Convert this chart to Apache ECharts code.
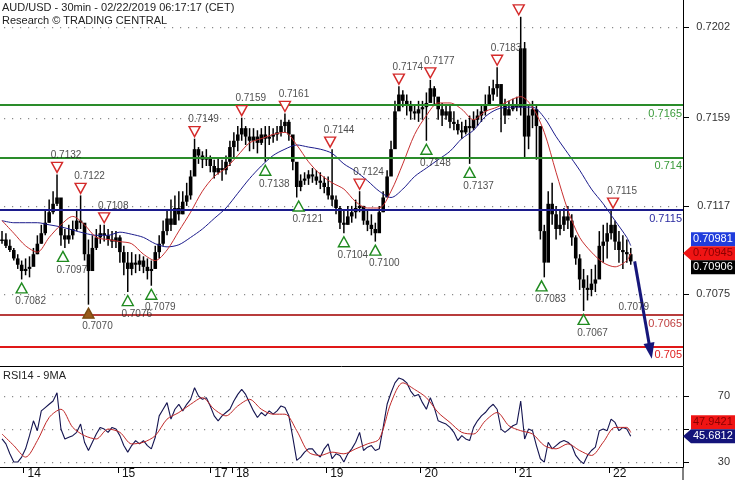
<!DOCTYPE html>
<html><head><meta charset="utf-8">
<script src="https://cdn.jsdelivr.net/npm/echarts@6/dist/echarts.min.js"></script>
<style>html,body{margin:0;padding:0;background:#fff}#c{width:735px;height:480px}</style>
</head><body><div id="c"></div>
<script>
// ---- price bars (one per hour, price in pips: 7105 = 0.7105) ----
const highs = [
7105,7104,7101,7097,7094,7091,7092,7093,7097,7103,
7108,7115,7120,7124,7132,7120,7106,7108,7110,7115,
7122,7108,7101,7103,7106,7108,7108,7106,7105,7105,
7103,7098,7095,7095,7094,7094,7093,7092,7091,7098,
7103,7110,7115,7120,7122,7124,7124,7128,7134,7149,
7145,7143,7144,7141,7139,7140,7139,7141,7148,7152,
7155,7159,7155,7154,7154,7153,7154,7155,7155,7154,
7155,7158,7161,7158,7150,7136,7132,7133,7134,7135,
7134,7133,7131,7131,7144,7122,7117,7115,7117,7117,
7120,7124,7117,7115,7113,7109,7117,7124,7134,7148,
7167,7174,7172,7170,7167,7165,7167,7167,7171,7177,
7174,7167,7166,7165,7165,7162,7158,7157,7158,7160,
7162,7163,7165,7170,7174,7177,7183,7172,7168,7167,
7168,7169,7207,7195,7165,7167,7165,7153,7108,7124,
7128,7117,7115,7116,7117,7113,7103,7094,7087,7084,
7087,7089,7105,7108,7109,7115,7110,7105,7103,7101,
7097];
const lows = [
7099,7097,7095,7091,7087,7082,7084,7083,7089,7094,
7099,7103,7109,7113,7117,7098,7097,7099,7101,7105,
7106,7091,7070,7090,7096,7099,7100,7098,7097,7097,
7090,7084,7076,7084,7085,7086,7085,7082,7079,7087,
7092,7098,7103,7105,7108,7110,7113,7117,7120,7136,
7137,7135,7136,7133,7130,7132,7129,7132,7136,7140,
7143,7148,7146,7143,7144,7142,7146,7138,7146,7147,
7148,7150,7152,7148,7134,7121,7124,7127,7127,7128,
7127,7125,7123,7120,7117,7113,7106,7104,7108,7109,
7111,7114,7108,7105,7103,7100,7108,7114,7122,7132,
7146,7165,7164,7160,7158,7158,7157,7158,7148,7167,
7165,7158,7155,7158,7154,7153,7151,7149,7151,7137,
7153,7155,7157,7160,7165,7167,7169,7152,7156,7161,
7162,7162,7160,7140,7144,7154,7139,7101,7083,7101,
7108,7101,7103,7105,7106,7098,7089,7077,7067,7072,
7074,7076,7086,7090,7092,7101,7096,7090,7087,7090,
7089];
const closes = [
7101,7098,7096,7092,7089,7086,7087,7088,7094,7099,
7104,7109,7114,7118,7121,7103,7101,7103,7106,7110,
7109,7094,7086,7097,7102,7104,7103,7101,7100,7102,
7095,7090,7087,7090,7089,7091,7088,7086,7087,7095,
7099,7105,7111,7108,7116,7113,7119,7122,7131,7144,
7141,7139,7140,7136,7133,7135,7134,7138,7145,7148,
7151,7154,7150,7148,7150,7147,7151,7149,7150,7151,
7152,7155,7157,7151,7138,7126,7129,7130,7132,7131,
7129,7128,7126,7122,7120,7116,7109,7108,7112,7114,
7116,7117,7110,7108,7106,7104,7114,7121,7131,7144,
7162,7170,7167,7165,7162,7161,7163,7164,7166,7173,
7169,7163,7160,7162,7157,7156,7153,7152,7155,7154,
7158,7160,7162,7165,7170,7173,7175,7165,7160,7163,
7165,7164,7192,7150,7160,7163,7155,7105,7090,7118,
7113,7106,7108,7112,7110,7102,7092,7082,7078,7077,
7080,7082,7098,7100,7104,7108,7100,7096,7095,7094,
7090.6];

// ---- moving averages [hour, pips] ----
const fastMA = [[0,7110],[3,7104],[6,7098],[9,7095],[12,7102],[15,7108],[18,7112],[21,7108],[24,7102],[27,7101],
[30,7100],[33,7099],[36,7094],[39,7091],[42,7096],[45,7105],[48,7114],[51,7124],[54,7131],[57,7135],
[60,7141],[63,7147],[66,7149],[69,7151],[72,7152],[75,7146],[78,7138],[81,7132],[84,7128],[87,7125],
[90,7119],[93,7116],[96,7116],[99,7124],[102,7137],[105,7151],[108,7160],[111,7166],[114,7166],[117,7163],
[120,7158],[123,7162],[126,7164],[129,7167],[132,7169],[135,7164],[138,7152],[141,7133],[144,7115],[147,7102],
[150,7095],[153,7090],[156,7088],[159,7091],[160,7094.5]];
const slowMA = [[0,7110],[3,7109],[6,7109],[9,7109],[12,7108],[15,7107],[18,7105.5],[21,7104],[24,7103],[27,7103],
[30,7104.5],[33,7103.5],[36,7102],[39,7099],[42,7097.5],[45,7098.5],[48,7102],[51,7106],[54,7111],[57,7116],
[60,7123],[63,7130],[66,7136],[69,7141],[72,7144],[75,7146],[78,7145],[81,7144],[84,7142],[87,7137],
[90,7133.5],[93,7129],[96,7124],[99,7121],[102,7125],[105,7131],[108,7135],[111,7139],[114,7143],[117,7149],
[120,7153],[123,7159.5],[126,7163],[129,7164],[132,7164],[135,7164],[138,7159],[141,7150],[144,7142],[147,7134],
[150,7125],[153,7118],[156,7110],[159,7102],[160,7098.1]];

// ---- RSI (hourly) and its 9MA [hour, value] ----
const rsi = [
44,41,35,30,30,33,38,46,55,49,
61,63,65,67,72,50,44,45,46,48,
53,42,37,42,47,51,50,48,51,50,
46,40,36,40,43,41,43,40,38,45,
58,62,66,56,62,65,61,65,68,75,
70,68,69,64,58,55,58,60,62,67,
71,74,71,66,61,57,60,58,61,59,
61,64,63,58,45,31,33,36,38,38,
35,33,38,41,32,35,34,30,35,38,
42,48,37,39,40,37,38,51,65,72,
78,81,80,78,73,70,71,66,62,69,
63,55,54,53,51,48,43,46,44,43,
51,55,58,60,63,65,62,50,48,50,
52,53,67,44,50,49,40,32,30,42,
38,40,42,43,42,40,34,31,29,34,
37,39,49,50,49,56,54,49,51,50,
45.6812];
const rsiMA = [[0,47],[3,40],[6,33],[9,43],[12,57],[15,62],[18,51],[21,46],[24,44],[27,50],
[30,48],[33,41],[36,42],[39,46],[42,56],[45,60],[48,65],[51,69],[54,62],[57,58],
[60,64],[63,68],[66,62],[69,59],[72,59],[75,49],[78,36],[81,34],[84,36],[87,35],
[90,38],[93,41],[96,44],[99,66],[102,78],[105,74],[108,69],[111,60],[114,54],[117,48],
[120,47],[123,55],[126,60],[129,52],[132,49],[135,47],[138,40],[141,38],[144,41],[147,37],
[150,34],[153,42],[156,51],[159,51],[160,47.9421]];

// ---- levels, markers, ticks ----
const levelValues = [7165, 7140, 7115, 7065, 7050];
const levelLabels = ['0.7165', '0.714', '0.7115', '0.7065', '0.705'];
const peakTimes  = [14, 20, 26, 49, 61, 72, 83.5, 91, 101, 109, 126, 131.5, 155.5];
const peakValues = [7132, 7122, 7108, 7149, 7159, 7161, 7144, 7124, 7174, 7177, 7183, 7207, 7115];
const peakLabels = ['0.7132','0.7122','0.7108','0.7149','0.7159','0.7161','0.7144','0.7124','0.7174','0.7177','0.7183','','0.7115'];
const troughTimes  = [5, 15.5, 22, 32, 38, 67, 75.5, 87, 95, 108, 119, 137.3, 148];
const troughValues = [7082, 7097, 7070, 7076, 7079, 7138, 7121, 7104, 7100, 7148, 7137, 7083, 7067];
const troughLabels = ['0.7082','0.7097','0.7070','0.7076','0.7079','0.7138','0.7121','0.7104','0.7100','0.7148','0.7137','0.7083','0.7067'];
const targetPoint = [158.5, 7079];
const targetLabel = '0.7079';
const projection = [[161, 7090.6], [165, 7048]];
const priceTicks = [7075, 7117, 7159, 7202];
const rsiTicks = [30, 50, 70];
const rsiTickLabels = [30, 70];
const dayTicks = [5.5, 29.5, 53, 58.5, 82.5, 106.5, 130.5, 154.5];
const dayLabels = ['14', '15', '17', '18', '19', '20', '21', '22'];

// ---- styles ----
const FONT = "'Liberation Sans', Arial, sans-serif";
const levelColors = ['#2a8c2a', '#2a8c2a', '#1c1c8c', '#b83c3c', '#e01818'];
const levelTextColors = ['#3a9a3a', '#3a9a3a', '#2a2aa0', '#c04040', '#e02020'];
const X_MIN = -0.51, X_MAX = 173.3;

const barData = highs.map((h, i) => [i, h, lows[i], i === 0 ? closes[0] : closes[i - 1], closes[i]]);
const rsiData = rsi.map((v, i) => [i, v]);

// dotted horizontal grid lines (drawn as small dots) spanning the grid width
function gridLineSeries(xIdx, yIdx, values) {
  return {type: 'custom', xAxisIndex: xIdx, yAxisIndex: yIdx, silent: true, z: 1, clip: false,
    data: values.map(v => [X_MIN, v]),
    encode: {x: 0, y: 1},
    renderItem: (params, api) => {
      const a = api.coord([X_MIN, api.value(1)]);
      const b = api.coord([X_MAX, api.value(1)]);
      const y = Math.round(a[1]);
      const dots = [];
      for (let x = Math.round(a[0]) + 4; x < b[0] - 2; x += 8) {
        dots.push({type: 'rect', shape: {x: x, y: y, width: 1.2, height: 1.2}, style: {fill: '#8a8a8a'}});
      }
      return {type: 'group', children: dots};
    }};
}

const chart = echarts.init(document.getElementById('c'), null, {renderer: 'canvas'});

const option = {
  animation: false,
  backgroundColor: '#fff',
  textStyle: {fontFamily: FONT},
  title: [
    {text: 'AUD/USD - 30min - 02/22/2019 06:17:17 (CET)', subtext: 'Research © TRADING CENTRAL',
     left: 2, top: 2, padding: 0, itemGap: 1,
     textStyle: {fontSize: 11, fontWeight: 'normal', color: '#222', fontFamily: FONT, lineHeight: 12},
     subtextStyle: {fontSize: 11, color: '#222', fontFamily: FONT, lineHeight: 12}},
    {text: 'RSI14 - 9MA', left: 3, top: 370, padding: 0,
     textStyle: {fontSize: 11, fontWeight: 'normal', color: '#222', fontFamily: FONT}}
  ],
  grid: [
    {left: 0, right: 52, top: 0, height: 366},
    {left: 0, right: 52, top: 367, height: 100}
  ],
  xAxis: [
    {type: 'value', gridIndex: 0, min: X_MIN, max: X_MAX,
     axisLine: {show: true, onZero: false, lineStyle: {color: '#000', width: 1}}, axisTick: {show: false},
     axisLabel: {show: false}, splitLine: {show: false}},
    {type: 'value', gridIndex: 1, min: X_MIN, max: X_MAX,
     axisLine: {show: true, onZero: false, lineStyle: {color: '#000', width: 1}},
     axisTick: {show: true, customValues: dayTicks, length: 6, lineStyle: {color: '#000'}},
     axisLabel: {show: true, customValues: dayTicks, margin: 1, align: 'left', padding: [0, 0, 0, 4],
       fontSize: 12, color: '#111', fontFamily: FONT,
       formatter: v => { const k = dayTicks.findIndex(d => Math.abs(d - v) < 1e-6); return k >= 0 ? dayLabels[k] : ''; }},
     splitLine: {show: false}}
  ],
  yAxis: [
    {type: 'value', gridIndex: 0, position: 'right', min: 7040.8, max: 7215, scale: true,
     axisLine: {show: true, onZero: false, lineStyle: {color: '#000', width: 1}},
     axisTick: {show: true, customValues: priceTicks, length: 6, lineStyle: {color: '#000'}},
     axisLabel: {show: true, customValues: priceTicks, align: 'right', margin: 47, fontSize: 11, color: '#333', fontFamily: FONT,
       formatter: v => (v / 10000).toFixed(4)},
     splitLine: {show: false}},
    {type: 'value', gridIndex: 1, position: 'right', min: 27, max: 87.6,
     axisLine: {show: true, onZero: false, lineStyle: {color: '#000', width: 1}},
     axisTick: {show: true, customValues: rsiTicks, length: 6, lineStyle: {color: '#000'}},
     axisLabel: {show: true, customValues: rsiTickLabels, align: 'right', margin: 47, fontSize: 11, color: '#333', fontFamily: FONT},
     splitLine: {show: false}}
  ],
  series: [
    gridLineSeries(0, 0, priceTicks),
    gridLineSeries(1, 1, rsiTicks),
    // OHLC bars
    {type: 'custom', xAxisIndex: 0, yAxisIndex: 0, data: barData, clip: true, z: 2,
     encode: {x: 0, y: [1, 2]},
     renderItem: (params, api) => {
       const t = api.value(0);
       const ph = api.coord([t, api.value(1)]);
       const pl = api.coord([t, api.value(2)]);
       const po = api.coord([t, api.value(3)]);
       const pc = api.coord([t, api.value(4)]);
       const top = Math.min(po[1], pc[1]);
       const hgt = Math.max(1.5, Math.abs(po[1] - pc[1]));
       return {type: 'group', children: [
         {type: 'line', shape: {x1: ph[0], y1: ph[1], x2: pl[0], y2: pl[1]}, style: {stroke: '#000', lineWidth: 1.5}},
         {type: 'rect', shape: {x: ph[0] - 1.8, y: top, width: 3.6, height: hgt}, style: {fill: '#000'}}
       ]};
     }},
    // moving averages
    {type: 'line', xAxisIndex: 0, yAxisIndex: 0, data: slowMA, showSymbol: false, smooth: 0.3, z: 3,
     lineStyle: {color: '#1c1c8c', width: 1}},
    {type: 'line', xAxisIndex: 0, yAxisIndex: 0, data: fastMA, showSymbol: false, smooth: 0.3, z: 3,
     lineStyle: {color: '#c83030', width: 1}},
    // support / resistance levels
    {type: 'line', xAxisIndex: 0, yAxisIndex: 0, data: [], silent: true, z: 4,
     markLine: {silent: true, symbol: 'none', animation: false,
       data: levelValues.map((v, i) => ({yAxis: v,
         lineStyle: {color: levelColors[i], width: 2, type: 'solid'},
         label: {show: true, position: 'insideEndBottom', distance: [1, 3], formatter: levelLabels[i],
           color: levelTextColors[i], fontSize: 11, fontFamily: FONT}}))}},
    // projection arrow
    {type: 'line', xAxisIndex: 0, yAxisIndex: 0, data: [], silent: true, z: 6,
     markLine: {silent: true, symbol: ['none', 'triangle'], symbolSize: [11, 16], animation: false,
       label: {show: false},
       lineStyle: {color: '#16167a', width: 3, type: 'solid'},
       itemStyle: {color: '#16167a'},
       data: [[{coord: projection[0]}, {coord: projection[1]}]]}},
    // peak triangles
    {type: 'scatter', xAxisIndex: 0, yAxisIndex: 0, z: 5, silent: true,
     data: peakTimes.map((t, i) => [t, peakValues[i]]),
     symbol: 'triangle', symbolRotate: 180, symbolSize: [11, 10], symbolOffset: [0, -7],
     itemStyle: {color: '#fff', borderColor: '#d42a2a', borderWidth: 1.4, opacity: 1}},
    // trough triangles
    {type: 'scatter', xAxisIndex: 0, yAxisIndex: 0, z: 5, silent: true,
     data: troughTimes.map((t, i) => (troughValues[i] === 7070
       ? {value: [t, troughValues[i]], itemStyle: {color: '#9a5a1a', borderColor: '#7a4a10'}}
       : [t, troughValues[i]])),
     symbol: 'triangle', symbolSize: [11, 10], symbolOffset: [0, 8.5],
     itemStyle: {color: '#fff', borderColor: '#1f8a1f', borderWidth: 1.4, opacity: 1}},
    // peak labels
    {type: 'scatter', xAxisIndex: 0, yAxisIndex: 0, z: 6, silent: true,
     data: peakTimes.map((t, i) => [t, peakValues[i]]),
     symbolSize: 1, itemStyle: {color: 'rgba(0,0,0,0)'},
     label: {show: true, position: 'inside', align: 'center', verticalAlign: 'middle', offset: [9, -19],
       fontSize: 10, color: '#222', fontFamily: FONT, formatter: p => peakLabels[p.dataIndex]}},
    // trough labels
    {type: 'scatter', xAxisIndex: 0, yAxisIndex: 0, z: 6, silent: true,
     data: troughTimes.map((t, i) => [t, troughValues[i]]).concat([targetPoint]),
     symbolSize: 1, itemStyle: {color: 'rgba(0,0,0,0)'},
     label: {show: true, position: 'inside', align: 'center', verticalAlign: 'middle', offset: [9, 22],
       fontSize: 10, color: '#222', fontFamily: FONT,
       formatter: p => (p.dataIndex < troughLabels.length ? troughLabels[p.dataIndex] : targetLabel)}},
    // RSI
    {type: 'line', xAxisIndex: 1, yAxisIndex: 1, data: rsiData, showSymbol: false, z: 3,
     lineStyle: {color: '#141450', width: 1.1}},
    {type: 'line', xAxisIndex: 1, yAxisIndex: 1, data: rsiMA, showSymbol: false, smooth: 0.3, z: 4,
     lineStyle: {color: '#c02828', width: 1}}
  ]
};
chart.setOption(option);

// value tags on the right axis
function tag(cy, fill, textColor, text, pointer) {
  const x0 = 691, x1 = 735, h = 7;
  const pts = pointer ? [[683, cy], [x0, cy - h], [x1, cy - h], [x1, cy + h], [x0, cy + h]]
                      : [[x0, cy - h], [x1, cy - h], [x1, cy + h], [x0, cy + h]];
  return [
    {type: 'polygon', shape: {points: pts}, style: {fill: fill}, z: 100},
    {type: 'text', x: 693, y: cy, z: 101,
     style: {text: text, fill: textColor, font: "11px 'Liberation Sans', Arial, sans-serif", verticalAlign: 'middle', align: 'left'}}
  ];
}
const lastClose = closes[closes.length - 1];
const lastFast = fastMA[fastMA.length - 1][1];
const lastSlow = slowMA[slowMA.length - 1][1];
const lastRsi = rsi[rsi.length - 1];
const lastRsiMA = rsiMA[rsiMA.length - 1][1];
const yFast = chart.convertToPixel({yAxisIndex: 0}, lastFast);
const yRsi = chart.convertToPixel({yAxisIndex: 1}, lastRsi);
const g = [].concat(
  tag(yFast - 14, '#1f3cdc', '#fff', (lastSlow / 10000).toFixed(5), false),
  tag(yFast, '#f01414', '#8a0000', (lastFast / 10000).toFixed(5), true),
  tag(yFast + 14, '#000', '#fff', (lastClose / 10000).toFixed(5), false),
  tag(yRsi - 14, '#f01414', '#8a0000', lastRsiMA.toFixed(4), false),
  tag(yRsi, '#14147a', '#fff', lastRsi.toFixed(4), true)
);
const axisX = chart.convertToPixel({xAxisIndex: 1}, X_MAX);
const axisBottom = chart.convertToPixel({yAxisIndex: 1}, 27);
g.push({type: 'line', shape: {x1: axisX, y1: axisBottom, x2: axisX, y2: 480}, style: {stroke: '#000', lineWidth: 1}, z: 50});
chart.setOption({graphic: g});
</script>
</body></html>
